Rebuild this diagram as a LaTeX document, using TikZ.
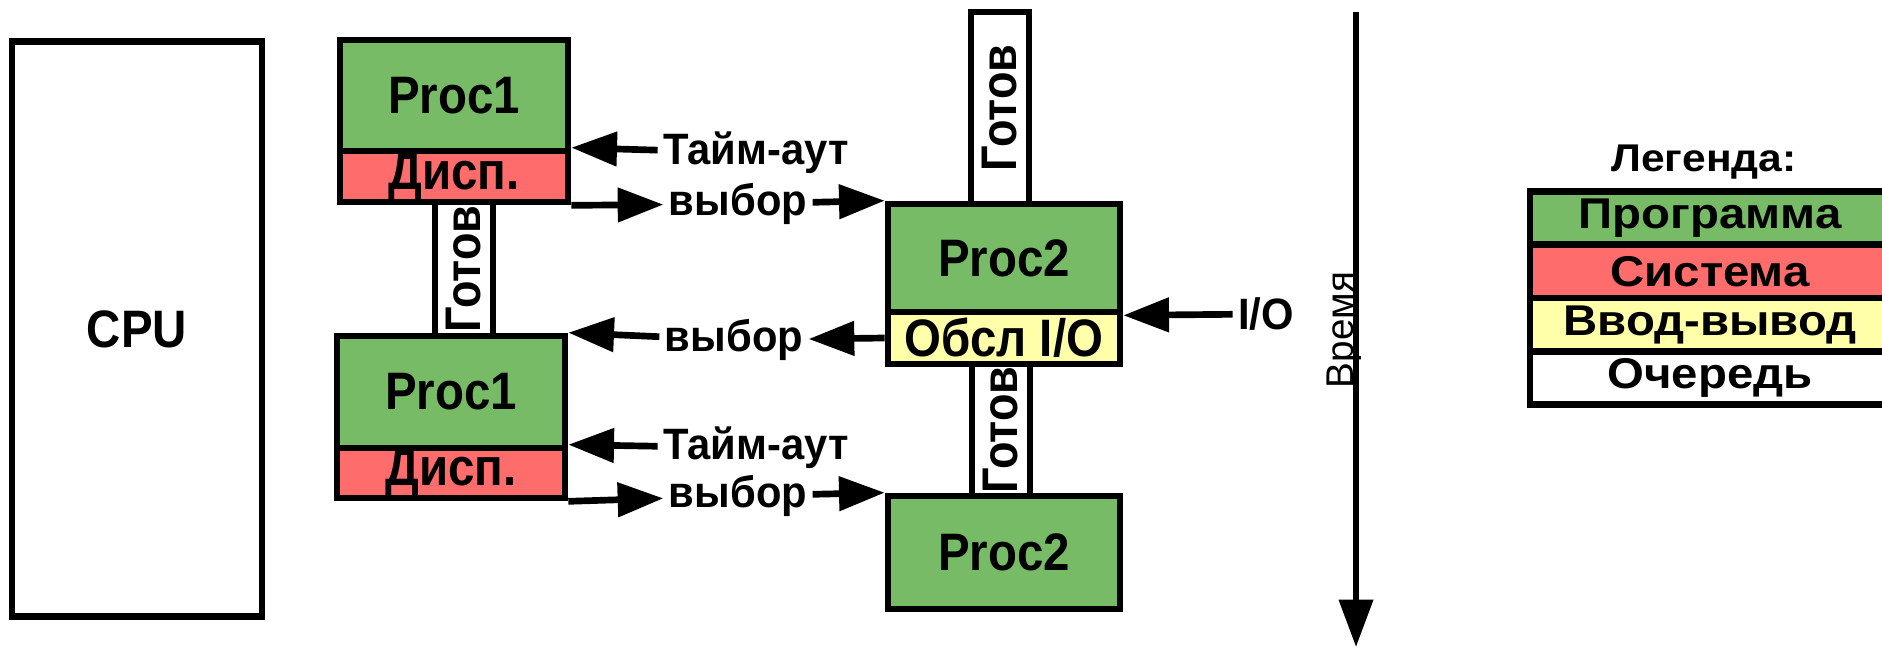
\documentclass[tikz,border=0pt]{standalone}
\usepackage{fontspec}
\setmainfont{Liberation Sans}
\newfontfamily\narrowfont[FakeStretch=0.9]{Liberation Sans}
\newfontfamily\labelfont[FakeStretch=0.95]{Liberation Sans}
\newfontfamily\widefont[FakeStretch=1.1]{Liberation Sans}
\usetikzlibrary{arrows.meta}
\definecolor{prog}{RGB}{120,187,102}
\definecolor{sys}{RGB}{255,108,108}
\definecolor{inout}{RGB}{255,255,170}
\begin{document}
\begin{tikzpicture}[x=0.02cm,y=-0.02cm,
	blk/.style={draw,line width=3.8pt,inner sep=0pt,minimum width=4.56cm,font=\narrowfont\fontsize{30}{32}\selectfont\bfseries},
	rdy/.style={draw,line width=3.8pt,fill=white,inner sep=0pt,rotate=90,minimum height=1.16cm,font=\narrowfont\fontsize{28.5}{30}\selectfont\bfseries},
	lbl/.style={inner sep=3pt,font=\labelfont\fontsize{25}{27}\selectfont\bfseries},
	leg/.style={draw,line width=3.8pt,inner sep=0pt,minimum width=7.2cm,minimum height=1.06cm,font=\widefont\fontsize{24.5}{26}\selectfont\bfseries},
	arr/.style={line width=3.8pt,-{Triangle[length=26pt,width=19pt]}}]
				\useasboundingbox (0,0) rectangle (1882,648);
				\clip (0,0) rectangle (1882,648);
				% CPU
				\node[blk,minimum width=5cm,minimum height=11.5cm] (cpu) at (137,329) {CPU};
				% queues
				\node[rdy,minimum width=2.68cm] (g1) at (464,269) {Готов};
				\node[rdy,minimum width=3.84cm] (g2) at (1000,108) {Готов};
				\node[rdy,minimum width=2.64cm] (g3) at (1001,430) {Готов};
				% Proc1
				\node[blk,fill=prog,minimum height=2.22cm] (p1a) at (454,95.5) {Proc1};
				\node[blk,fill=sys,minimum height=1.02cm] (d1a) at (454,176.5) {Дисп.};
				\node[blk,fill=prog,minimum height=2.24cm] (p1b) at (451,392) {Proc1};
				\node[blk,fill=sys,minimum height=1cm] (d1b) at (451,473) {Дисп.};
				% Proc2
				\node[blk,fill=prog,minimum width=4.64cm,minimum height=2.16cm] (p2a) at (1004,258) {Proc2};
				\node[blk,fill=inout,minimum width=4.64cm,minimum height=1.04cm] (io2) at (1004,338) {Обсл I/O};
				\node[blk,fill=prog,minimum width=4.64cm,minimum height=2.26cm] (p2c) at (1004,552.5) {Proc2};
				% labels
				\node[lbl] (to1) at (756,153) {Тайм-аут};
				\node[lbl] (sel1) at (738,204) {выбор};
				\node[lbl] (sel2) at (734,340) {выбор};
				\node[lbl] (to2) at (756,448) {Тайм-аут};
				\node[lbl] (sel3) at (738,496) {выбор};
				\node[lbl] (io) at (1266,314) {I/O};
				% arrows
				\draw[arr] (to1) -- (d1a.north east);
				\draw[arr] (d1a.south east) -- (sel1);
				\draw[arr] (sel1) -- (p2a.north west);
				\draw[arr] (io) -- (p2a.south east);
				\draw[arr] (io2.west) -- (sel2);
				\draw[arr] (sel2) -- (p1b.north east);
				\draw[arr] (to2) -- (d1b.north east);
				\draw[arr] (d1b.south east) -- (sel3);
				\draw[arr] (sel3) -- (p2c.north west);
				% time
				\coordinate (t0) at (1356,12);
				\coordinate (t1) at (1356,647);
				\draw[line width=3.4pt,-{Triangle[length=27pt,width=19pt]}] (t0) -- (t1);
				\node[rotate=90,inner sep=0pt,font=\fontsize{22}{24}\selectfont] (tm) at (1344,330) {Время};
				% legend
				\node[font=\widefont\fontsize{22}{24}\selectfont\bfseries] (lgt) at (1704,162) {Легенда:};
				\node[leg,fill=prog] (lg1) at (1710,218) {Программа};
				\node[leg,fill=sys] (lg2) at (1710,271.5) {Система};
				\node[leg,fill=inout] (lg3) at (1710,324.5) {Ввод-вывод};
				\node[leg,fill=white] (lg4) at (1710,378) {Очередь};
			\end{tikzpicture}
\end{document}
